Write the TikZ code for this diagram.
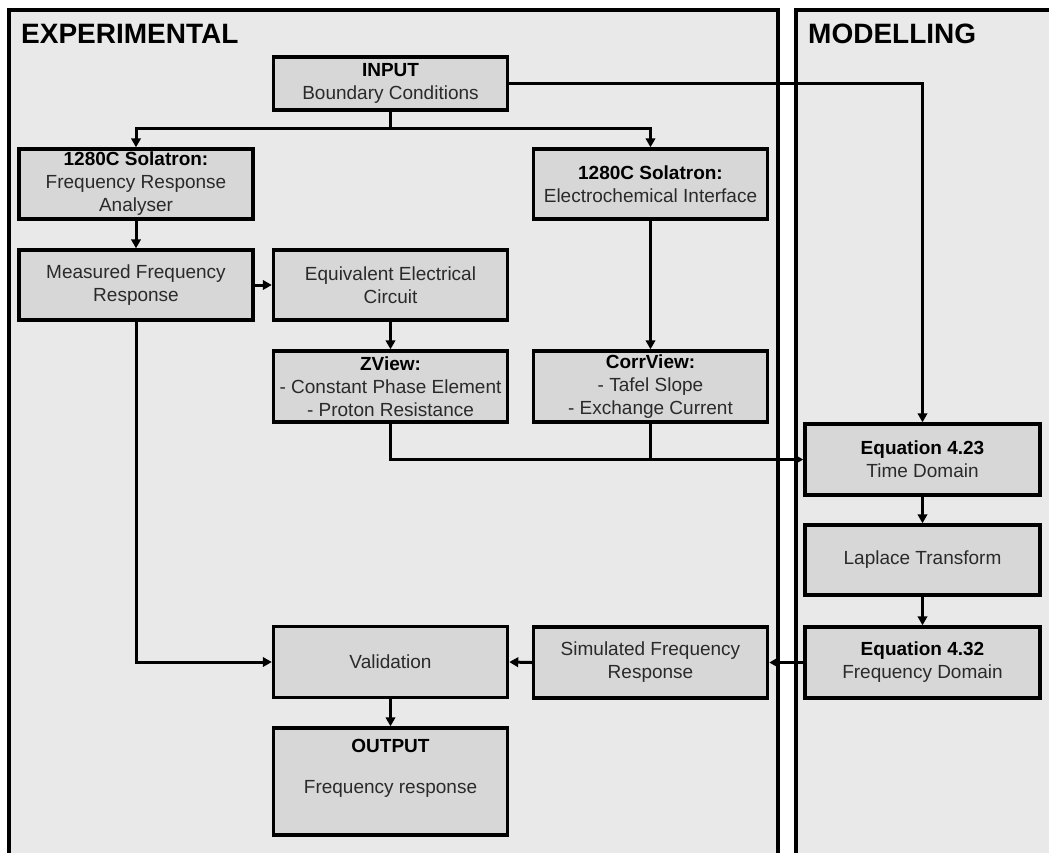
\documentclass[tikz,border=0pt]{standalone}
\usepackage{fontspec}
\setmainfont{Liberation Sans}
\usetikzlibrary{arrows.meta}
\definecolor{panelfill}{HTML}{E9E9E9}
\definecolor{boxfill}{HTML}{D7D7D7}
\definecolor{txt}{HTML}{2A2A2A}
\newcommand\hdr[1]{\textcolor{black}{\textbf{#1}}}
\begin{document}
\begin{tikzpicture}[x=1pt,y=-1pt,
  panel/.style={fill=panelfill,draw=black,line width=3.2pt},
  box/.style={draw=black,fill=boxfill,line width=3.4pt,inner sep=0pt,align=center,
    text=txt,font=\fontsize{19}{23}\selectfont,minimum width=234pt,minimum height=70pt},
  conn/.style={line width=3pt,draw=black},
  arr/.style={conn,-{Triangle[length=9pt,width=9.5pt]}},
  title/.style={font=\fontsize{28}{32}\selectfont\bfseries,anchor=base west,inner sep=0pt}]
\useasboundingbox (0,0) rectangle (1049,852);
\clip (0,0) rectangle (1049,852);
\fill[white] (0,0) rectangle (1049,852);
\draw[panel] (9,10) rectangle (778,880);
\draw[panel] (796,10) rectangle (1080,880);
\node[title] (exptitle) at (21,43) {EXPERIMENTAL};
\node[title] (modtitle) at (808,43) {MODELLING};

% boxes
\node[box,minimum height=53pt] (input) at (390.5,83.5) {\hdr{INPUT}\\Boundary Conditions};
\node[box] (fra) at (136,184) {\hdr{1280C Solatron:}\\Frequency Response\\Analyser};
\node[box] (ei) at (650.5,184) {\hdr{1280C Solatron:}\\Electrochemical Interface};
\node[box] (meas) at (136,285) {Measured Frequency\\Response};
\node[box] (eec) at (390.5,285) {Equivalent Electrical\\Circuit};
\node[box,minimum height=71pt] (zview) at (390.5,386.5) {\hdr{ZView:}\\- Constant Phase Element\\- Proton Resistance};
\node[box,minimum height=71pt] (corr) at (650.5,386.5) {\hdr{CorrView:}\\- Tafel Slope\\- Exchange Current};
\node[box,minimum width=235pt,minimum height=71pt] (eq1) at (922.5,459.5) {\hdr{Equation 4.23}\\Time Domain};
\node[box,minimum width=235pt] (lap) at (922.5,560) {Laplace Transform};
\node[box,minimum width=235pt,minimum height=71pt] (eq2) at (922.5,662.5) {\hdr{Equation 4.32}\\Frequency Domain};
\node[box,minimum height=71pt] (sim) at (650.5,662.5) {Simulated Frequency\\Response};
\node[box,minimum height=71pt] (val) at (390.5,662) {Validation};
\node[box,minimum height=107pt] (out) at (390.5,781.5) {\hdr{OUTPUT}\\[18pt]Frequency response\\\strut};

% connectors
\coordinate (split) at (390.5,128);
\draw[conn] (input.south) -- (split);
\draw[arr] (split) -| (fra.north);
\draw[arr] (split) -| (ei.north);
\draw[arr] (input.east) -| (eq1.north);
\draw[arr] (fra.south) -- (meas.north);
\draw[arr] (meas.east) -- (eec.west);
\draw[arr] (eec.south) -- (zview.north);
\draw[arr] (ei.south) -- (corr.north);
\draw[arr] (zview.south) |- (eq1.west);
\draw[conn] (corr.south) -- (corr.south |- eq1.west);
\draw[arr] (meas.south) |- (val.west);
\draw[arr] (eq1.south) -- (lap.north);
\draw[arr] (lap.south) -- (eq2.north);
\draw[arr] (eq2.west) -- (sim.east);
\draw[arr] (sim.west) -- (val.east);
\draw[arr] (val.south) -- (out.north);
\end{tikzpicture}
\end{document}
